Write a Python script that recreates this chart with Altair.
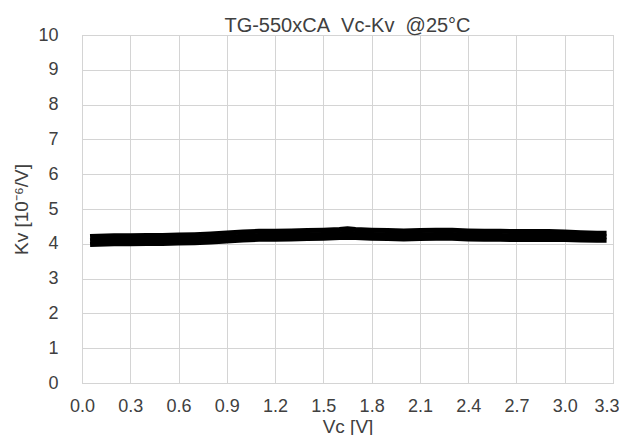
import altair as alt
import pandas as pd

# Data (Vc in V, Kv in 1e-6/V), three overlapping samples
vc = [0.05, 0.1, 0.2, 0.3, 0.4, 0.5, 0.6, 0.7, 0.8, 0.9, 1.0, 1.1, 1.2, 1.3, 1.4, 1.5,
      1.6, 1.65, 1.7, 1.8, 1.9, 2.0, 2.1, 2.2, 2.3, 2.4, 2.5, 2.6, 2.7, 2.8, 2.9, 3.0,
      3.1, 3.2, 3.26]
kv_a = [4.21, 4.22, 4.23, 4.23, 4.24, 4.24, 4.25, 4.26, 4.28, 4.31, 4.34, 4.36, 4.36,
        4.37, 4.38, 4.39, 4.41, 4.43, 4.41, 4.39, 4.38, 4.37, 4.38, 4.39, 4.39, 4.37,
        4.36, 4.36, 4.35, 4.35, 4.35, 4.34, 4.32, 4.30, 4.30]
kv_b = [4.09, 4.10, 4.11, 4.11, 4.12, 4.12, 4.13, 4.14, 4.16, 4.19, 4.22, 4.24, 4.24,
        4.25, 4.26, 4.27, 4.29, 4.31, 4.29, 4.27, 4.26, 4.25, 4.26, 4.27, 4.27, 4.25,
        4.24, 4.24, 4.23, 4.23, 4.23, 4.23, 4.21, 4.20, 4.20]
kv_c = [3.98, 3.99, 4.00, 4.00, 4.01, 4.01, 4.02, 4.03, 4.05, 4.08, 4.11, 4.13, 4.13,
        4.14, 4.15, 4.16, 4.18, 4.19, 4.18, 4.16, 4.15, 4.14, 4.15, 4.16, 4.16, 4.14,
        4.13, 4.13, 4.12, 4.12, 4.12, 4.12, 4.11, 4.10, 4.10]

x_ticks = [0.0, 0.3, 0.6, 0.9, 1.2, 1.5, 1.8, 2.1, 2.4, 2.7, 3.0, 3.3]
y_ticks = [0, 1, 2, 3, 4, 5, 6, 7, 8, 9, 10]
title_text = "TG-550xCA\u00a0 Vc-Kv\u00a0 @25\u00b0C"

rows = []
for name, series in [("a", kv_a), ("b", kv_b), ("c", kv_c)]:
    for v, k in zip(vc, series):
        rows.append({"Vc": v, "Kv": k, "sample": name})
df = pd.DataFrame(rows)

FONT = "Liberation Sans"
TXT = "#404040"

lines = alt.Chart(df).mark_line(color="black", strokeWidth=5, strokeJoin="round").encode(
    x=alt.X("Vc:Q",
            scale=alt.Scale(domain=[0, 3.3], nice=False, zero=False),
            axis=alt.Axis(values=x_ticks, format=".1f", title="Vc [V]",
                          labelPadding=14, tickSize=0, domain=False, labelFlush=False,
                          labelAlign=alt.ExprRef(expr="datum.value > 3.2 ? 'right' : 'center'"),
                          labelOffset=alt.ExprRef(expr="datum.value > 3.2 ? 6 : 0"),
                          titleX=265.5, titleY=43, titleAlign="center",
                          titleBaseline="middle")),
    y=alt.Y("Kv:Q",
            scale=alt.Scale(domain=[0, 10], nice=False),
            axis=alt.Axis(values=y_ticks, format="d", title="Kv [10\u207b\u2076/V]",
                          labelPadding=24, tickSize=0, domain=False, labelFlush=False,
                          titleX=-61, titleY=174, titleAngle=270,
                          titleAlign="center", titleBaseline="middle")),
    detail="sample:N",
)

title = alt.Chart(pd.DataFrame({"t": [title_text]})).mark_text(
    font=FONT, fontSize=20, color=TXT, align="center", baseline="alphabetic"
).encode(x=alt.value(265.5), y=alt.value(-3), text="t:N")

chart = alt.layer(lines, title).properties(
    width=531,
    height=348,
    autosize=alt.AutoSizeParams(type="none"),
    padding={"left": 74, "top": 27, "right": 6, "bottom": 52},
).configure_axis(
    labelFont=FONT, titleFont=FONT, labelFontSize=18, titleFontSize=19,
    labelColor=TXT, titleColor=TXT, titleFontWeight="normal",
    grid=True, gridColor="#d4d4d4", gridWidth=1,
).configure_view(
    stroke="#c4c4c4", strokeWidth=1
)

chart.save("out.html", embed_options={"renderer": "svg", "actions": False})
